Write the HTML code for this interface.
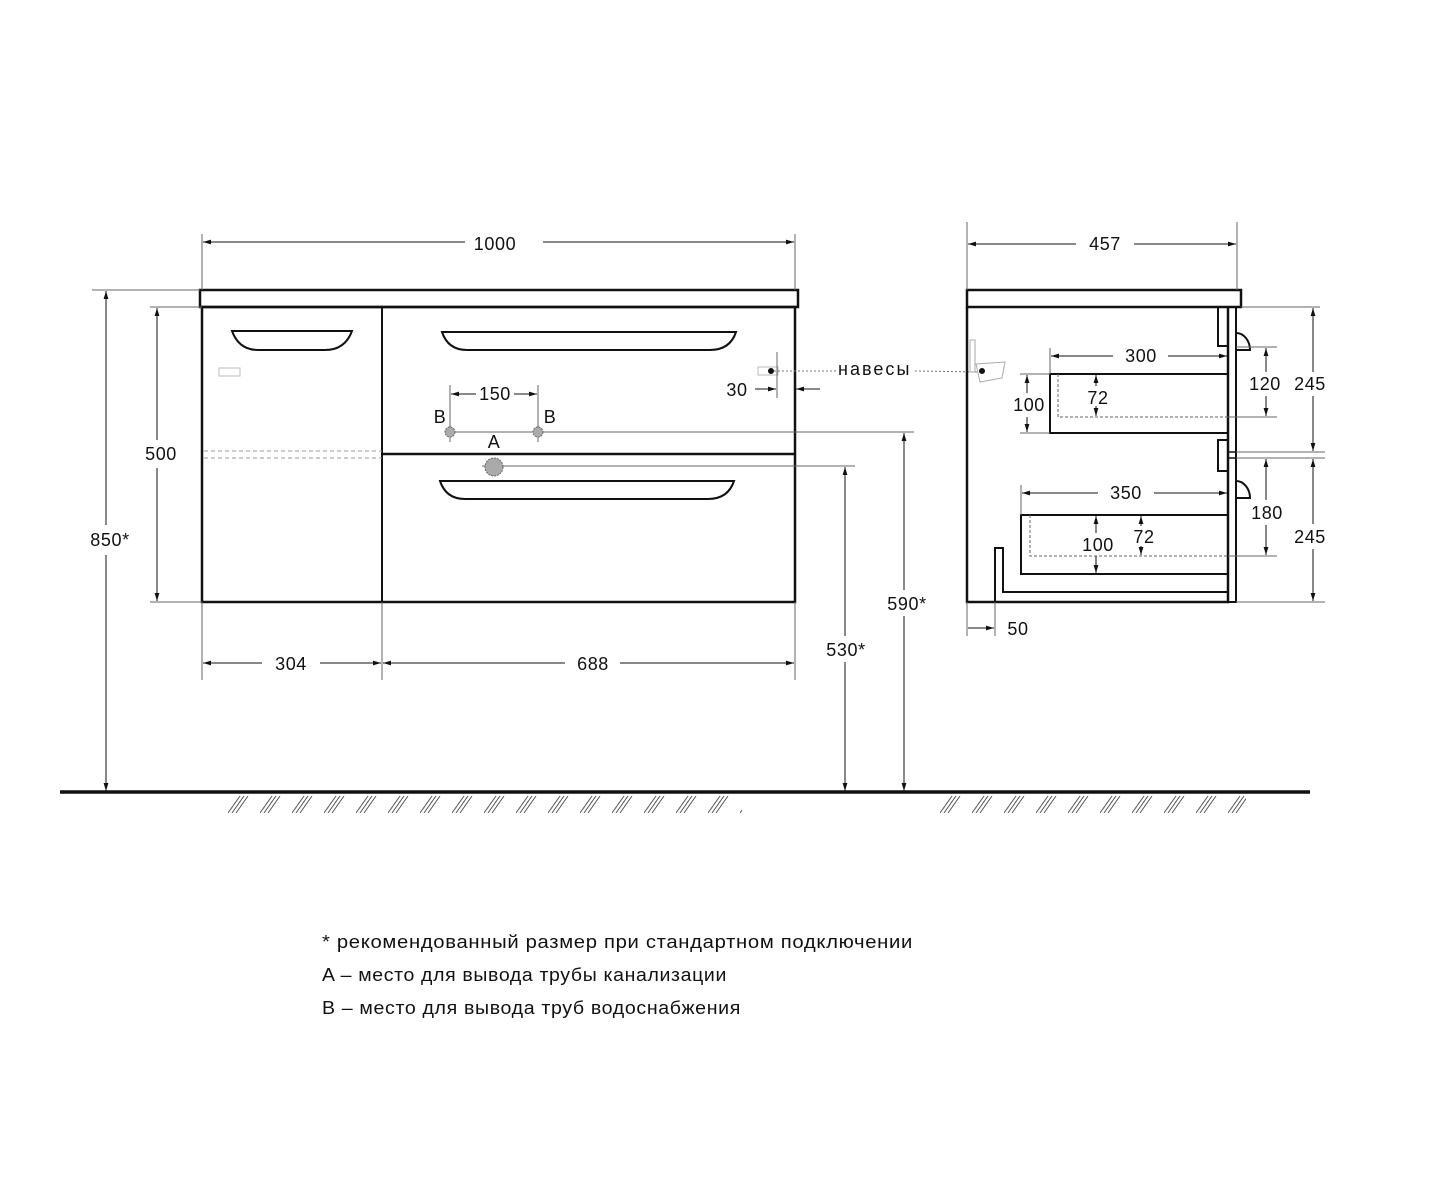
<!DOCTYPE html>
<html><head><meta charset="utf-8"><style>
html,body{margin:0;padding:0;background:#fff}
svg text{font-family:"Liberation Sans",sans-serif;font-size:18px;letter-spacing:0.6px;fill:#111}
</style></head><body>
<svg width="1435" height="1182" viewBox="0 0 1435 1182" xmlns="http://www.w3.org/2000/svg">
<defs>
<marker id="a" viewBox="0 0 10 10" refX="10" refY="5" markerWidth="8" markerHeight="8" orient="auto-start-reverse"><path d="M0,2 L10,5 L0,8 z" fill="#111"/></marker>
<pattern id="h" x="228" y="796" width="32" height="17" patternUnits="userSpaceOnUse">
<path d="M0,17 L12,0 M4,17 L16,0 M8,17 L20,0" stroke="#555" stroke-width="1"/>
</pattern>
<pattern id="h2" x="940" y="796" width="32" height="17" patternUnits="userSpaceOnUse">
<path d="M0,17 L12,0 M4,17 L16,0 M8,17 L20,0" stroke="#555" stroke-width="1"/>
</pattern>
</defs>
<g fill="none" stroke="#111">
<rect x="200" y="290" width="598" height="17" stroke-width="2.5"/>
<rect x="202" y="307" width="593" height="295" stroke-width="2.5"/>
<line x1="382" y1="307" x2="382" y2="602" stroke-width="2"/>
<line x1="382" y1="454" x2="795" y2="454" stroke-width="2.5"/>
<line x1="204" y1="451" x2="382" y2="451" stroke="#999" stroke-dasharray="4,3"/>
<line x1="204" y1="458" x2="382" y2="458" stroke="#999" stroke-dasharray="4,3"/>
<path d="M232,331 L352,331 Q345,350 325,350 L258,350 Q239,350 232,331 Z" stroke-width="2"/>
<path d="M442,332 L736,332 Q730,350 710,350 L467,350 Q448,350 442,332 Z" stroke-width="2"/>
<path d="M440,481 L734,481 Q728,499 708,499 L465,499 Q446,499 440,481 Z" stroke-width="2"/>
<rect x="219" y="368" width="21" height="8" stroke="#bbb"/>
<rect x="758" y="367" width="20" height="8" stroke="#bbb"/>
<g stroke-width="1" stroke="#666">
<line x1="202" y1="234" x2="202" y2="290"/><line x1="795" y1="234" x2="795" y2="290"/>
<line x1="92" y1="290" x2="200" y2="290"/><line x1="150" y1="307" x2="202" y2="307"/><line x1="150" y1="602" x2="202" y2="602"/>
<line x1="202" y1="602" x2="202" y2="680"/><line x1="382" y1="602" x2="382" y2="680"/><line x1="795" y1="602" x2="795" y2="680"/>
<line x1="482" y1="466" x2="855" y2="466"/><line x1="450" y1="432" x2="914" y2="432"/>
<line x1="450" y1="385" x2="450" y2="442"/><line x1="538" y1="385" x2="538" y2="442"/>
<line x1="777" y1="352" x2="777" y2="398"/>
</g>
<g stroke-width="1" marker-start="url(#a)" marker-end="url(#a)">
<line x1="203" y1="242" x2="465" y2="242" marker-end="none"/>
<line x1="543" y1="242" x2="794" y2="242" marker-start="none"/>
<line x1="106" y1="291" x2="106" y2="525" marker-end="none"/>
<line x1="106" y1="555" x2="106" y2="791" marker-start="none"/>
<line x1="157" y1="308" x2="157" y2="440" marker-end="none"/>
<line x1="157" y1="468" x2="157" y2="601" marker-start="none"/>
<line x1="203" y1="663" x2="262" y2="663" marker-end="none"/>
<line x1="320" y1="663" x2="381" y2="663" marker-start="none"/>
<line x1="383" y1="663" x2="565" y2="663" marker-end="none"/>
<line x1="620" y1="663" x2="794" y2="663" marker-start="none"/>
<line x1="845" y1="467" x2="845" y2="636" marker-end="none"/>
<line x1="845" y1="662" x2="845" y2="791" marker-start="none"/>
<line x1="904" y1="433" x2="904" y2="590" marker-end="none"/>
<line x1="904" y1="616" x2="904" y2="791" marker-start="none"/>
<line x1="451" y1="394" x2="476" y2="394" marker-end="none"/>
<line x1="514" y1="394" x2="537" y2="394" marker-start="none"/>
<line x1="755" y1="389" x2="776" y2="389" marker-start="none"/>
<line x1="820" y1="389" x2="796" y2="389" marker-start="none"/>
</g>
<circle cx="450" cy="432" r="5" fill="#aaa" stroke="#666" stroke-dasharray="2,1"/>
<circle cx="538" cy="432" r="5" fill="#aaa" stroke="#666" stroke-dasharray="2,1"/>
<circle cx="494" cy="467" r="9" fill="#aaa" stroke="#666" stroke-dasharray="2,1"/>
<circle cx="771" cy="371" r="2.5" fill="#111"/>
<line x1="774" y1="371" x2="836" y2="371" stroke="#777" stroke-dasharray="2,2"/>
<line x1="915" y1="371" x2="980" y2="372" stroke="#777" stroke-dasharray="2,2"/>
<line x1="60" y1="792" x2="1310" y2="792" stroke-width="3.5"/>
<rect x="228" y="796" width="514" height="17" fill="url(#h)" stroke="none"/>
<rect x="940" y="796" width="306" height="17" fill="url(#h2)" stroke="none"/>
<rect x="967" y="290" width="274" height="17" stroke-width="2.5"/>
<path d="M967,307 L967,602 L1228,602 L1228,307" stroke-width="2.5"/>
<rect x="1228" y="307" width="8" height="295" stroke-width="2"/>
<rect x="1218" y="307" width="10" height="39" stroke-width="2"/>
<rect x="1218" y="440" width="10" height="31" stroke-width="2"/>
<rect x="1228" y="452" width="8" height="6" stroke-width="1.5"/>
<path d="M1236,333 A14,17 0 0 1 1250,350 L1236,350" stroke-width="2"/>
<path d="M1236,481 A14,17 0 0 1 1250,498 L1236,498" stroke-width="2"/>
<path d="M1228,374 L1050,374 L1050,433 L1228,433" stroke-width="2"/>
<path d="M1058,374 L1058,417 L1228,417" stroke="#666" stroke-dasharray="3,2"/>
<path d="M1228,515 L1021,515 L1021,574 L1228,574" stroke-width="2"/>
<path d="M1030,515 L1030,556 L1228,556" stroke="#666" stroke-dasharray="3,2"/>
<path d="M995,602 L995,548 L1003,548 L1003,592 L1228,592" stroke-width="2"/>
<g stroke="#aaa"><rect x="970" y="340" width="5" height="32"/><path d="M976,364 L1005,362 L1002,378 L980,382 Z"/></g>
<circle cx="982" cy="371" r="2.5" fill="#111"/>
<g stroke-width="1" stroke="#666">
<line x1="967" y1="222" x2="967" y2="290"/><line x1="1237" y1="222" x2="1237" y2="290"/>
<line x1="1050" y1="348" x2="1050" y2="374"/><line x1="1021" y1="485" x2="1021" y2="515"/>
<line x1="1020" y1="374" x2="1050" y2="374"/><line x1="1020" y1="433" x2="1050" y2="433"/>
<line x1="1241" y1="307" x2="1320" y2="307"/><line x1="1236" y1="452" x2="1325" y2="452"/><line x1="1236" y1="458" x2="1325" y2="458"/><line x1="1236" y1="602" x2="1325" y2="602"/>
<line x1="1236" y1="347" x2="1277" y2="347"/><line x1="1228" y1="417" x2="1277" y2="417"/><line x1="1228" y1="556" x2="1277" y2="556"/>
<line x1="967" y1="602" x2="967" y2="636"/><line x1="995" y1="602" x2="995" y2="636"/>
</g>
<g stroke-width="1" marker-start="url(#a)" marker-end="url(#a)">
<line x1="968" y1="244" x2="1076" y2="244" marker-end="none"/>
<line x1="1134" y1="244" x2="1236" y2="244" marker-start="none"/>
<line x1="1051" y1="356" x2="1113" y2="356" marker-end="none"/>
<line x1="1168" y1="356" x2="1227" y2="356" marker-start="none"/>
<line x1="1022" y1="493" x2="1098" y2="493" marker-end="none"/>
<line x1="1154" y1="493" x2="1227" y2="493" marker-start="none"/>
<line x1="1027" y1="375" x2="1027" y2="393" marker-end="none"/>
<line x1="1027" y1="417" x2="1027" y2="432" marker-start="none"/>
<line x1="1096" y1="375" x2="1096" y2="386" marker-end="none"/>
<line x1="1096" y1="406" x2="1096" y2="416" marker-start="none"/>
<line x1="1266" y1="348" x2="1266" y2="372" marker-end="none"/>
<line x1="1266" y1="396" x2="1266" y2="416" marker-start="none"/>
<line x1="1313" y1="308" x2="1313" y2="372" marker-end="none"/>
<line x1="1313" y1="396" x2="1313" y2="451" marker-start="none"/>
<line x1="1266" y1="459" x2="1266" y2="500" marker-end="none"/>
<line x1="1266" y1="525" x2="1266" y2="555" marker-start="none"/>
<line x1="1313" y1="459" x2="1313" y2="524" marker-end="none"/>
<line x1="1313" y1="549" x2="1313" y2="601" marker-start="none"/>
<line x1="1096" y1="516" x2="1096" y2="533" marker-end="none"/>
<line x1="1096" y1="556" x2="1096" y2="573" marker-start="none"/>
<line x1="1141" y1="516" x2="1141" y2="526" marker-end="none"/>
<line x1="1141" y1="546" x2="1141" y2="555" marker-start="none"/>
<line x1="968" y1="628" x2="994" y2="628" marker-start="none"/>
</g>
</g>
<g>
<text x="495" y="250" text-anchor="middle">1000</text>
<text x="110" y="546" text-anchor="middle">850*</text>
<text x="161" y="460" text-anchor="middle">500</text>
<text x="291" y="670" text-anchor="middle">304</text>
<text x="593" y="670" text-anchor="middle">688</text>
<text x="846" y="656" text-anchor="middle">530*</text>
<text x="907" y="610" text-anchor="middle">590*</text>
<text x="495" y="400" text-anchor="middle">150</text>
<text x="737" y="396" text-anchor="middle">30</text>
<text x="440" y="423" text-anchor="middle">B</text>
<text x="550" y="423" text-anchor="middle">B</text>
<text x="494" y="448" text-anchor="middle">A</text>
<text x="838" y="375" textLength="72">навесы</text>
<text x="1105" y="250" text-anchor="middle">457</text>
<text x="1141" y="362" text-anchor="middle">300</text>
<text x="1126" y="499" text-anchor="middle">350</text>
<text x="1029" y="411" text-anchor="middle">100</text>
<text x="1098" y="404" text-anchor="middle">72</text>
<text x="1265" y="390" text-anchor="middle">120</text>
<text x="1310" y="390" text-anchor="middle">245</text>
<text x="1267" y="519" text-anchor="middle">180</text>
<text x="1310" y="543" text-anchor="middle">245</text>
<text x="1098" y="551" text-anchor="middle">100</text>
<text x="1144" y="543" text-anchor="middle">72</text>
<text x="1018" y="635" text-anchor="middle">50</text>
<text x="322" y="948" textLength="591" lengthAdjust="spacingAndGlyphs">* рекомендованный размер при стандартном подключении</text>
<text x="322" y="981" textLength="405" lengthAdjust="spacingAndGlyphs">A – место для вывода трубы канализации</text>
<text x="322" y="1014" textLength="419" lengthAdjust="spacingAndGlyphs">B – место для вывода труб водоснабжения</text>
</g>
</svg>
</body></html>
